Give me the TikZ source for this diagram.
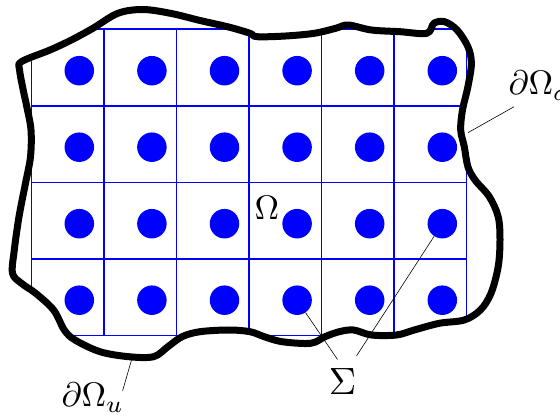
\documentclass[tikz,border=0pt]{standalone}
\usepackage{amsmath}
\usepackage{xcolor}
\usetikzlibrary{positioning}
\definecolor{cellblue}{RGB}{0,0,255}

\begin{document}
\begin{tikzpicture}[x=1pt, y=-1pt,
  every node/.style={inner sep=0pt},
  border/.style={line width=7pt, line join=round},
  cell/.style={draw=cellblue, line width=1.6pt},
  dot/.style={circle, fill=cellblue, minimum size=29.5pt},
  leader/.style={line width=0.6pt},
  lab/.style={scale=3.4}
]
\useasboundingbox (0,0) rectangle (560,419);
\path[save path=\blob] plot[smooth cycle, tension=0.55] coordinates {
  (21.4,61.7) (50,50) (71.4,40) (92.9,28.3) (117.9,13.3) (142.9,9.5)
  (171.4,13.5) (200,20.5) (228.6,27) (250,33.3) (257,36.7) (285.7,36)
  (314.3,33.3) (335.7,28.3) (348.2,25) (371.4,30) (400,31.7) (426.8,33.3)
  (433.9,23.3) (444.6,21.7) (457.1,30) (467.9,46.7) (471.4,63.3) (467.9,86.7)
  (462.5,110) (460.7,130) (464.3,146.7) (467.9,166.7) (475,180) (489.3,196.7)
  (498.2,216.7) (500,240) (498.2,266.7) (491,293.3) (480.4,310) (464.3,320)
  (439.3,323.3) (414.3,330) (396.4,335) (371.4,335) (353.6,330) (339.3,331.7)
  (325,336.7) (310.7,343.3) (282.1,341.7) (264.3,336.7) (250,331.7) (228.6,330)
  (200,331.7) (182.1,336.7) (167.9,346.7) (153.6,356.7) (128.6,356.7) (100,351.7)
  (75,340) (64.3,330) (53.6,310) (35.7,293.3) (21.4,283.3) (12.5,273.3)
  (14.3,250) (19,216.7) (25.5,183.3) (30.5,156.7) (31,130) (26.8,106.7)
  (23.2,90) (19.6,70)};

\begin{scope}
  \clip[use path=\blob];
  \foreach \i in {0,...,6}
    \draw[cell] ({31.4+72.5*\i},29.3) -- ({31.4+72.5*\i},335.7);
  \foreach \j in {0,...,4}
    \draw[cell] (31.4,{29.3+76.6*\j}) -- (466.4,{29.3+76.6*\j});
\end{scope}

\foreach \r in {1,...,4}
  \foreach \c in {1,...,6}
    \node[dot] (d-\r-\c) at ({79.3+72.6*(\c-1)},{70.7+76.5*(\r-1)}) {};

\draw[border, use path=\blob];

\node[lab, anchor=base] (omega) at (267,220) {$\Omega$};
\node[lab, anchor=base west] (dsig) at (508,95) {$\partial\Omega_\sigma$};
\node[lab, anchor=base west] (du) at (61,407) {$\partial\Omega_u$};
\node[scale=3.8] (sig) at (342.5,381.7) {$\Sigma$};

\coordinate (bsig) at (467.9,132.7);
\coordinate (bu) at (131.7,359.3);

\draw[leader] ([shift={(6,6)}]dsig.south west) -- (bsig);
\draw[leader] (bu) -- ([shift={(-2,8)}]du.north east);
\draw[leader] (d-4-4) -- ([shift={(-5,-8.5)}]sig.north);
\draw[leader] (d-3-6) -- ([shift={(14,-12)}]sig.north);
\end{tikzpicture}
\end{document}
